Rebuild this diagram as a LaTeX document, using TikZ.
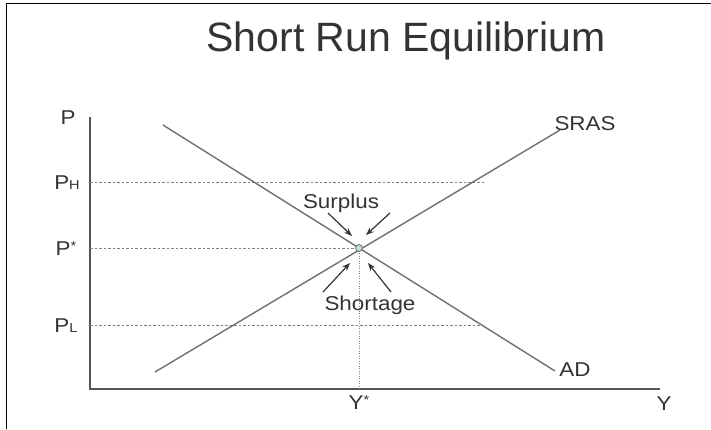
\documentclass[tikz,border=0pt]{standalone}
\usepackage{fontspec}
\setmainfont{Liberation Sans}
\newfontfamily\lblfont[FakeStretch=1.12]{Liberation Sans}
\usetikzlibrary{arrows.meta}
\definecolor{txt}{HTML}{333333}
\definecolor{axisc}{HTML}{555555}
\definecolor{curvec}{HTML}{707070}
\definecolor{guidec}{HTML}{808080}
\definecolor{eqfill}{HTML}{BFE3D0}
\begin{document}
\begin{tikzpicture}[x=1pt,y=-1pt,
 lbl/.style={text=txt,font=\lblfont\fontsize{20}{22}\selectfont,inner sep=0pt},
 axisline/.style={draw=axisc,line width=1.8pt},
 curveline/.style={draw=curvec,line width=1.4pt},
 guide/.style={draw=guidec,line width=0.7pt,dash pattern=on 2.5pt off 2pt},
 pointer/.style={draw=txt,line width=1.2pt,-{Stealth[length=8pt,width=6pt]}},
]
\useasboundingbox (0,0) rectangle (711,429);
\fill[white] (0,0) rectangle (711,429);
\draw[line width=1.5pt] (6.5,429) -- (6.5,3.5) -- (711,3.5);

\node[text=txt,font=\fontsize{41}{46}\selectfont,inner sep=0pt] (title) at (406,41) {Short Run Equilibrium};

% axes
\coordinate (O) at (90,389);
\coordinate (Ptop) at (90,117);
\coordinate (Yend) at (660,389);
\draw[axisline] (Ptop) -- (O) -- (Yend);

% curves
\coordinate (sras0) at (155,372);
\coordinate (sras1) at (560,130);
\coordinate (ad0) at (163,125);
\coordinate (ad1) at (555,371);

% guide lines
\coordinate (ph0) at (90,182);
\coordinate (ph1) at (484,182);
\coordinate (ps0) at (90,248);
\coordinate (pl0) at (90,325);
\coordinate (pl1) at (482,325);
\coordinate (ys) at (359,389);
\draw[guide] (ph0) -- (ph1);
\draw[guide] (pl0) -- (pl1);
\draw[guide] (ps0) -- (359,248);
\draw[draw=guidec,line width=0.9pt,dash pattern=on 1.2pt off 1.3pt] (359,248) -- (ys);

\draw[curveline] (sras0) -- (sras1);
\draw[curveline] (ad0) -- (ad1);

\node[circle,draw=curvec,fill=eqfill,line width=0.8pt,minimum size=7pt,inner sep=0pt] (eq) at (359,248) {};

% labels
\node[lbl] (lP) at (68,118) {P};
\node[lbl] (lPH) at (67,183) {P{\fontsize{13}{13}\selectfont H}};
\node[lbl] (lPs) at (66,249) {P\raisebox{5pt}{\fontsize{13}{13}\selectfont *}};
\node[lbl] (lPL) at (66,326) {P{\fontsize{13}{13}\selectfont L}};
\node[lbl] (lYs) at (359,403) {Y\raisebox{5pt}{\fontsize{13}{13}\selectfont *}};
\node[lbl] (lY) at (664,404) {Y};
\node[lbl] (lSRAS) at (585,124) {SRAS};
\node[lbl] (lAD) at (575,370) {AD};
\node[lbl] (surplus) at (341,203) {Surplus};
\node[lbl] (shortage) at (370,305) {Shortage};

% pointers
\coordinate (s1t) at (328,213);
\coordinate (s1h) at (352,236);
\coordinate (s2t) at (390,213);
\coordinate (s2h) at (366,235);
\coordinate (h1t) at (323,292);
\coordinate (h1h) at (350,263);
\coordinate (h2t) at (391,292);
\coordinate (h2h) at (368,263);
\draw[pointer] (s1t) -- (s1h);
\draw[pointer] (s2t) -- (s2h);
\draw[pointer] (h1t) -- (h1h);
\draw[pointer] (h2t) -- (h2h);
\end{tikzpicture}
\end{document}
